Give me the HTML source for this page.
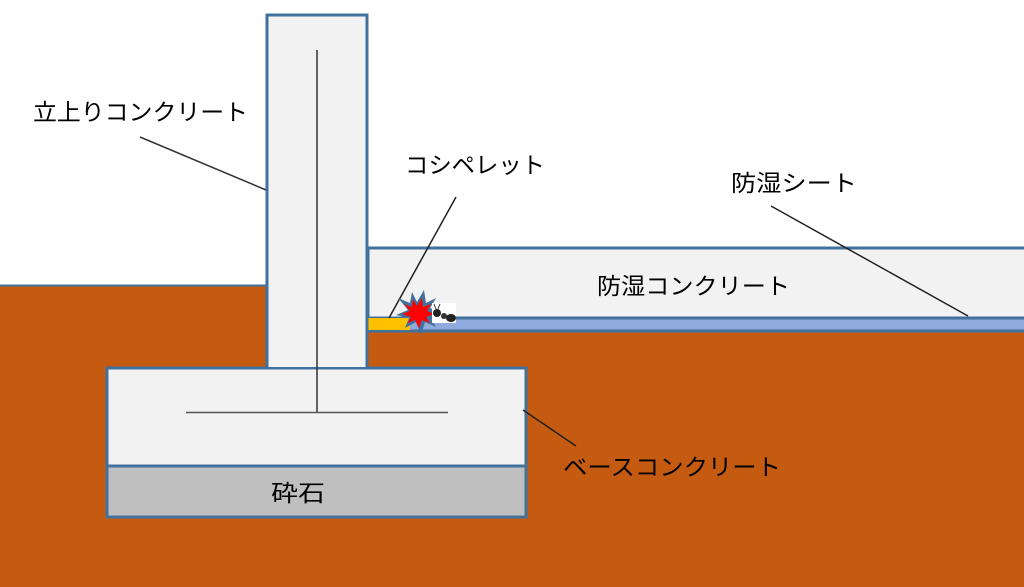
<!DOCTYPE html>
<html><head><meta charset="utf-8"><style>
html,body{margin:0;padding:0;background:#fff;}
svg{display:block;}
text{font-family:"Liberation Sans","Noto Sans CJK JP",sans-serif;font-size:23px;fill:#000;}
</style></head><body>
<svg width="1024" height="587" viewBox="0 0 1024 587" xmlns="http://www.w3.org/2000/svg">
<rect x="0" y="0" width="1024" height="587" fill="#fff"/>
<!-- soil -->
<rect x="0" y="286" width="1024" height="301" fill="#C55A11"/>
<line x1="0" y1="285.5" x2="266" y2="285.5" stroke="#41719C" stroke-width="2"/>
<!-- moisture concrete -->
<rect x="368" y="248" width="660" height="70" fill="#F2F2F2" stroke="#41719C" stroke-width="3"/>
<!-- sheet -->
<rect x="368" y="318" width="660" height="13" fill="#8FAADC" stroke="#41719C" stroke-width="3"/>
<rect x="368" y="318" width="42" height="12" fill="#FFC000"/>
<!-- wall -->
<rect x="267" y="15" width="100" height="353" fill="#F2F2F2" stroke="#41719C" stroke-width="3"/>
<!-- base -->
<rect x="107" y="368" width="419" height="98" fill="#F2F2F2" stroke="#41719C" stroke-width="3"/>
<rect x="107" y="466" width="419" height="51" fill="#BFBFBF" stroke="#41719C" stroke-width="3"/>
<rect x="268.5" y="360" width="97" height="7" fill="#F2F2F2"/>
<!-- rebar -->
<line x1="317" y1="50" x2="317" y2="412" stroke="#333" stroke-width="1.5"/>
<line x1="186" y1="412.5" x2="448" y2="412.5" stroke="#555" stroke-width="1.5"/>
<!-- leaders -->
<line x1="140" y1="137" x2="266" y2="190" stroke="#333" stroke-width="1.5"/>
<line x1="456" y1="197" x2="389" y2="318" stroke="#222" stroke-width="1.5"/>
<line x1="771" y1="206" x2="968" y2="316" stroke="#222" stroke-width="1.5"/>
<line x1="523" y1="410" x2="576" y2="446" stroke="#222" stroke-width="1.5"/>
<!-- burst -->
<polygon points="412,292 417,302 424,290 426,303 436,298 430,308 441,313 430,317 436,327 425,322 421,335 416,322 405,328 409,318 396,315 408,310 398,298 410,303" fill="#41719C"/>
<polygon points="413,299 417,306 422,298 423,307 431,304 427,311 434,314 426,317 430,323 422,320 419,328 415,320 408,323 411,317 402,314 410,311 404,304 412,307" fill="#FF0000"/>
<!-- ant -->
<rect x="432" y="303" width="24" height="20" fill="#fff"/>
<ellipse cx="437" cy="313" rx="4" ry="4" fill="#222"/>
<ellipse cx="444" cy="316" rx="3" ry="3" fill="#333"/>
<ellipse cx="451" cy="318" rx="5" ry="4" fill="#222"/>
<line x1="436" y1="309" x2="434" y2="304" stroke="#333" stroke-width="1"/>
<line x1="438" y1="309" x2="440" y2="304" stroke="#333" stroke-width="1"/>
<!-- labels -->
<text x="33" y="120" textLength="215" lengthAdjust="spacingAndGlyphs">立上りコンクリート</text>
<text x="405" y="173" textLength="140" lengthAdjust="spacingAndGlyphs">コシペレット</text>
<text x="731" y="191" textLength="126" lengthAdjust="spacingAndGlyphs">防湿シート</text>
<text x="597" y="294" textLength="193" lengthAdjust="spacingAndGlyphs">防湿コンクリート</text>
<text x="563" y="475" textLength="218" lengthAdjust="spacingAndGlyphs">ベースコンクリート</text>
<text x="271" y="501" textLength="54" lengthAdjust="spacingAndGlyphs">砕石</text>
</svg>
</body></html>
